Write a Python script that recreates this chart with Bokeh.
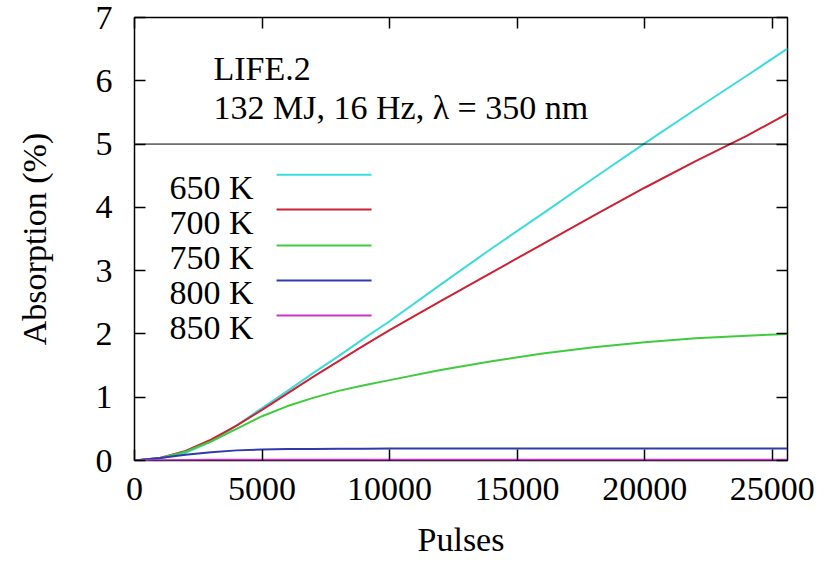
from bokeh.plotting import figure
from bokeh.models import (Range1d, FixedTicker, LinearAxis, Span, Label,
                          CustomJSTickFormatter)
from bokeh.embed import file_html
from bokeh.resources import INLINE

# ---- data ----
pulses = [0, 1000, 2000, 3000, 4000, 5000, 6000, 7000, 8000, 9000, 10000,
          12000, 14000, 16000, 18000, 20000, 22000, 24000, 25600]
abs_650 = [0, 0.03, 0.12, 0.30, 0.55, 0.83, 1.10, 1.38, 1.65, 1.93, 2.20,
           2.78, 3.35, 3.90, 4.46, 5.01, 5.55, 6.08, 6.51]
abs_700 = [0, 0.04, 0.15, 0.33, 0.55, 0.80, 1.06, 1.32, 1.57, 1.82, 2.06,
           2.52, 2.97, 3.42, 3.87, 4.31, 4.73, 5.13, 5.48]
abs_750 = [0, 0.04, 0.14, 0.30, 0.50, 0.70, 0.86, 0.99, 1.10, 1.19, 1.27,
           1.43, 1.57, 1.69, 1.79, 1.87, 1.93, 1.97, 2.00]
abs_800 = [0, 0.04, 0.09, 0.13, 0.16, 0.175, 0.18, 0.183, 0.185, 0.187, 0.189,
           0.19, 0.19, 0.19, 0.19, 0.19, 0.19, 0.19, 0.19]
abs_850 = [0, 0.005, 0.008, 0.01, 0.01, 0.01, 0.01, 0.01, 0.01, 0.01, 0.01,
           0.01, 0.01, 0.01, 0.01, 0.01, 0.01, 0.01, 0.01]

series_names = ["650 K", "700 K", "750 K", "800 K", "850 K"]
series_values = [abs_650, abs_700, abs_750, abs_800, abs_850]
series_colors = ["#3ADCDC", "#CC2233", "#3ECC3E", "#2E3AAE", "#D030D0"]

x_ticks = [0, 5000, 10000, 15000, 20000, 25000]
y_ticks = [0, 1, 2, 3, 4, 5, 6, 7]
threshold = 5

title_line1 = "LIFE.2"
title_line2 = "132 MJ, 16 Hz, \u03bb = 350 nm"

FONT = "Liberation Serif"
FS = "34px"

p = figure(width=826, height=566, output_backend="svg", toolbar_location=None,
           x_range=Range1d(0, 25600), y_range=Range1d(0, 7),
           min_border_left=134, min_border_right=39,
           min_border_top=17, min_border_bottom=106)
p.background_fill_color = "white"
p.border_fill_color = "white"
p.outline_line_color = "black"
p.outline_line_width = 1.5
p.xgrid.visible = False
p.ygrid.visible = False


def style_axis(ax, ticks, show_labels):
    ax.ticker = FixedTicker(ticks=ticks)
    ax.major_tick_in = 11
    ax.major_tick_out = 0
    ax.minor_tick_in = 0
    ax.minor_tick_out = 0
    ax.major_tick_line_color = "black"
    ax.major_tick_line_width = 1.5
    ax.axis_line_color = None
    ax.major_label_text_font = FONT
    ax.major_label_text_font_size = FS
    ax.major_label_text_color = "black"
    ax.axis_label_text_font = FONT
    ax.axis_label_text_font_size = FS
    ax.axis_label_text_font_style = "normal"
    ax.axis_label_text_color = "black"
    if not show_labels:
        ax.formatter = CustomJSTickFormatter(code="return ''")


style_axis(p.xaxis[0], x_ticks, True)
style_axis(p.yaxis[0], y_ticks, True)
p.xaxis[0].axis_label = "Pulses"
p.yaxis[0].axis_label = "Absorption (%)"
p.xaxis[0].major_label_standoff = 17
p.yaxis[0].major_label_standoff = 22
p.xaxis[0].axis_label_standoff = 18
p.yaxis[0].axis_label_standoff = 40

top = LinearAxis()
style_axis(top, x_ticks, False)
p.add_layout(top, "above")
right = LinearAxis()
style_axis(right, y_ticks, False)
p.add_layout(right, "right")

# horizontal reference line at 5 %
p.add_layout(Span(location=threshold, dimension="width",
                  line_color="black", line_width=1))

# curves
for name, vals, col in zip(series_names, series_values, series_colors):
    p.line(pulses, vals, line_color=col, line_width=2)

# legend drawn gnuplot-style: text on the left, sample on the right
leg_text_x = 4667
leg_line_x0, leg_line_x1 = 5569, 9294
leg_line_y = [4.514, 3.966, 3.397, 2.844, 2.291]
leg_text_y = [4.313, 3.760, 3.207, 2.654, 2.101]
for name, col, ly, ty in zip(series_names, series_colors, leg_line_y, leg_text_y):
    p.add_layout(Label(x=leg_text_x, y=ty, text=name, text_align="right",
                       text_baseline="alphabetic", text_font=FONT,
                       text_font_size=FS, text_color="black"))
    p.segment(x0=[leg_line_x0], y0=[ly], x1=[leg_line_x1], y1=[ly],
              line_color=col, line_width=2)

p.add_layout(Label(x=3098, y=6.20, text=title_line1, text_align="left",
                   text_baseline="alphabetic", text_font=FONT,
                   text_font_size=FS, text_color="black"))
p.add_layout(Label(x=3098, y=5.585, text=title_line2, text_align="left",
                   text_baseline="alphabetic", text_font=FONT,
                   text_font_size=FS, text_color="black"))

open("out.html", "w").write(file_html(p, INLINE))
